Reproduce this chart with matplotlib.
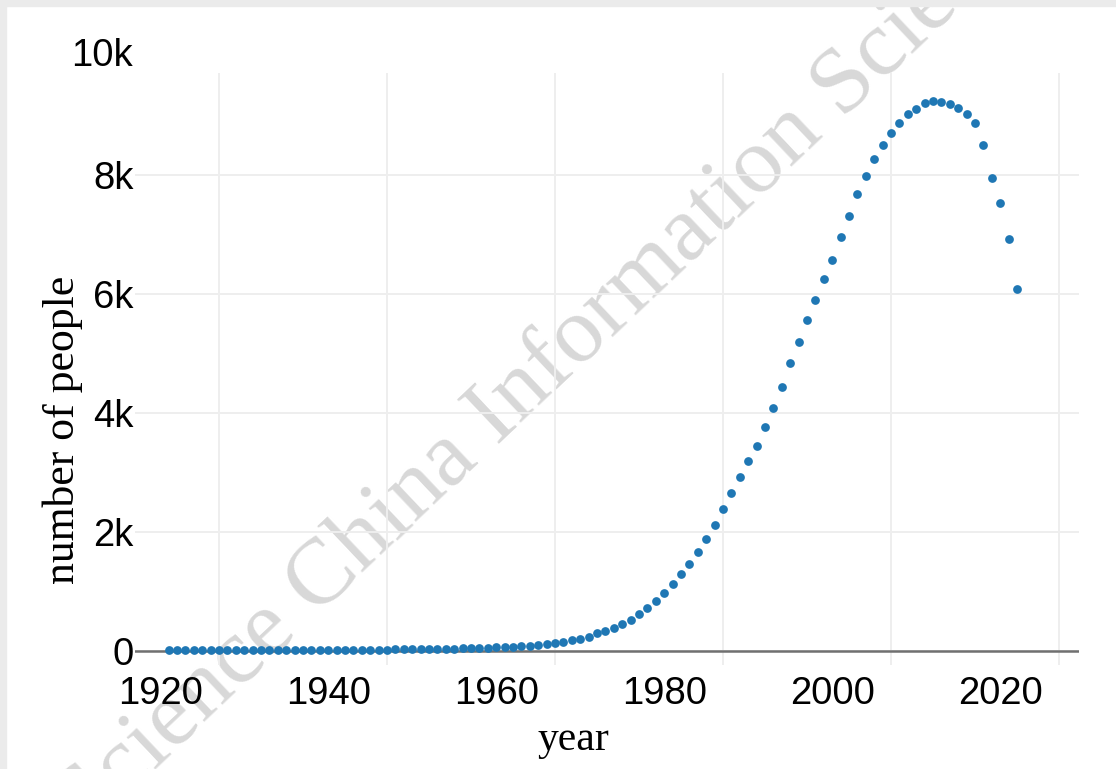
import numpy as np
import matplotlib.pyplot as plt
from matplotlib.patches import Rectangle

# yearly counts (1921-2022)
years = np.arange(1921, 2023)
people = [3, 3, 4, 4, 4, 5, 5, 5, 6, 6,
          6, 7, 7, 8, 8, 9, 9, 10, 10, 11,
          12, 12, 13, 14, 15, 16, 17, 18, 20, 21,
          23, 25, 27, 29, 32, 35, 38, 42, 46, 51,
          57, 64, 72, 82, 95, 110, 128,
          148, 176, 198, 232, 289, 333, 383, 445, 513, 613,
          709, 837, 961, 1118, 1281, 1454, 1661, 1874, 2109, 2373,
          2652, 2921, 3185, 3437, 3751, 4071, 4434, 4827, 5190, 5550,
          5890, 6244, 6558, 6944, 7297, 7667, 7975, 8255, 8491, 8703,
          8861, 9012, 9106, 9202, 9230, 9224, 9185, 9113, 9017, 8861,
          8496, 7936, 7521, 6916, 6081]

xticks = [1920, 1940, 1960, 1980, 2000, 2020]
yticks = [0, 2000, 4000, 6000, 8000]
ytick_labels = ['0', '2k', '4k', '6k', '8k']
grid_years = [1927, 1947, 1967, 1987, 2007, 2027]

fig = plt.figure(figsize=(11.16, 7.69), dpi=100)
ax = fig.add_axes([0.121, 0.1352, 0.8459, 0.7698])

# light grey frame of the screenshot
fig.patches.append(Rectangle((0, 1 - 6/769), 1, 6/769, transform=fig.transFigure,
                             color='#ebebeb', zorder=0))
fig.patches.append(Rectangle((0, 0), 6/1116, 1, transform=fig.transFigure,
                             color='#ebebeb', zorder=0))

ax.plot(years, people, 'o', color='#1f77b4', markersize=6.3, markeredgewidth=0, zorder=3)

ax.set_xlim(1917.0, 2029.4)
ax.set_ylim(-244, 9706)

ax.set_xticks(xticks)
ax.set_xticks(grid_years, minor=True)
ax.set_yticks(yticks)
ax.set_yticklabels(ytick_labels)
ax.tick_params(which='both', length=0)
ax.tick_params(axis='x', pad=8)
ax.tick_params(axis='y', pad=1)
for lab in ax.get_xticklabels() + ax.get_yticklabels():
    lab.set_fontfamily('Liberation Sans')
    lab.set_fontsize(27.5)

ax.grid(axis='x', which='minor', color='#eeeeee', linewidth=1.4, zorder=0)
ax.grid(axis='y', which='major', color='#eeeeee', linewidth=1.4, zorder=0)
ax.grid(axis='x', which='major', visible=False)
ax.axhline(0, color='#707070', linewidth=1.8, zorder=2)
for s in ax.spines.values():
    s.set_visible(False)

ax.text(-0.002, 10000, '10k', transform=ax.get_yaxis_transform(), ha='right', va='center',
        fontsize=27.5, family='Liberation Sans', clip_on=False)

fig.text(573/1116, 1 - 740/769, 'year', ha='center', va='center',
         fontsize=30, family='Liberation Serif')
fig.text(63/1116, 1 - 430/769, 'number of people', ha='center', va='center',
         rotation=90, fontsize=31.5, family='Liberation Serif')

# watermark
ax.text(85/1116, 1 - 835/769, 'Science China Information Sciences',
        transform=fig.transFigure, rotation=43.4, rotation_mode='anchor',
        ha='left', va='baseline', fontsize=68, family='Liberation Serif',
        color='#d8d8d8', zorder=1.5, clip_on=False)

fig.savefig('out.png', dpi=100)
